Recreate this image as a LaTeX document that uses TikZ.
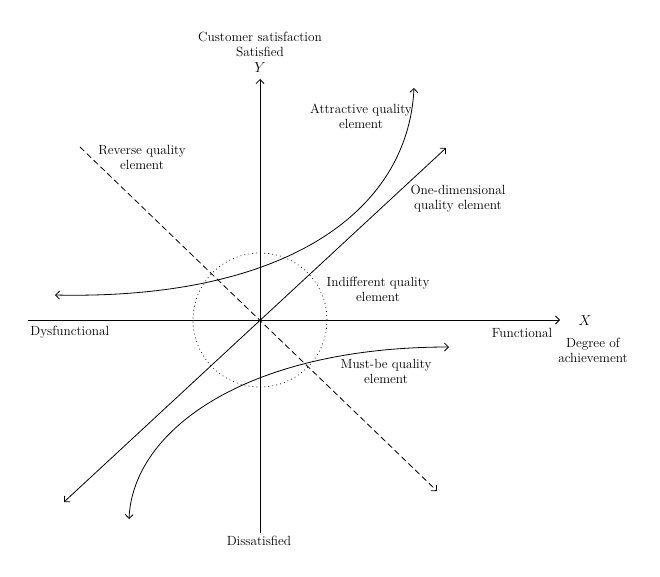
\documentclass[tikz,border=0pt]{standalone}
\usetikzlibrary{arrows.meta, positioning}

\begin{document}
\begin{tikzpicture}[x=1pt, y=-1pt, line width=0.8pt, >={Straight Barb[length=4pt, width=8pt]},
  font=\fontsize{13.3}{15}\selectfont, every node/.style={align=center, inner sep=0pt},
  reverse/.style={dash pattern=on 6pt off 3.5pt},
  indifferent/.style={line width=0.7pt, dash pattern=on 0.8pt off 3.2pt}]
  \useasboundingbox (0,0) rectangle (660,576);
  % axes
  \coordinate (o) at (260,320);
  \coordinate (ytop) at (260,79);
  \coordinate (ybot) at (260,533);
  \coordinate (xl) at (28,320);
  \coordinate (xr) at (560,320);
  % curve ends
  \coordinate (att1) at (55,295);
  \coordinate (att2) at (414,88);
  \coordinate (one1) at (64,502);
  \coordinate (one2) at (446,148);
  \coordinate (rev1) at (80,147);
  \coordinate (rev2) at (437,491);
  \coordinate (must1) at (129,519);
  \coordinate (must2) at (449,347);

  \draw[->] (ybot) -- (ytop);
  \draw[->] (xl) -- (xr);
  \draw[indifferent] (o) circle[radius=67];
  \draw[<->] (att1) .. controls (285,300) and (408,212) .. (att2);
  \draw[<->] (one1) -- (one2);
  \draw[reverse, ->] (rev1) -- (rev2);
  \draw[<->] (must1) .. controls (133,428) and (250,347) .. (must2);

  \node (ylab) at (260,68) {$Y$};
  \node (sat) at (260,44) {Customer satisfaction\\Satisfied};
  \node (dis) at (259,541) {Dissatisfied};
  \node (xlab) at (585,321) {$X$};
  \node (deg) at (593,350) {Degree of\\achievement};
  \node (dys) [anchor=west] at (30,332) {Dysfunctional};
  \node (fun) at (522,333) {Functional};
  \node (attl) at (361,116) {Attractive quality\\element};
  \node (revl) at (142,157) {Reverse quality\\element};
  \node (onel) at (458,199) {One-dimensional\\quality element};
  \node (indl) at (378,289) {Indifferent quality\\element};
  \node (mustl) at (386,371) {Must-be quality\\element};
\end{tikzpicture}
\end{document}
